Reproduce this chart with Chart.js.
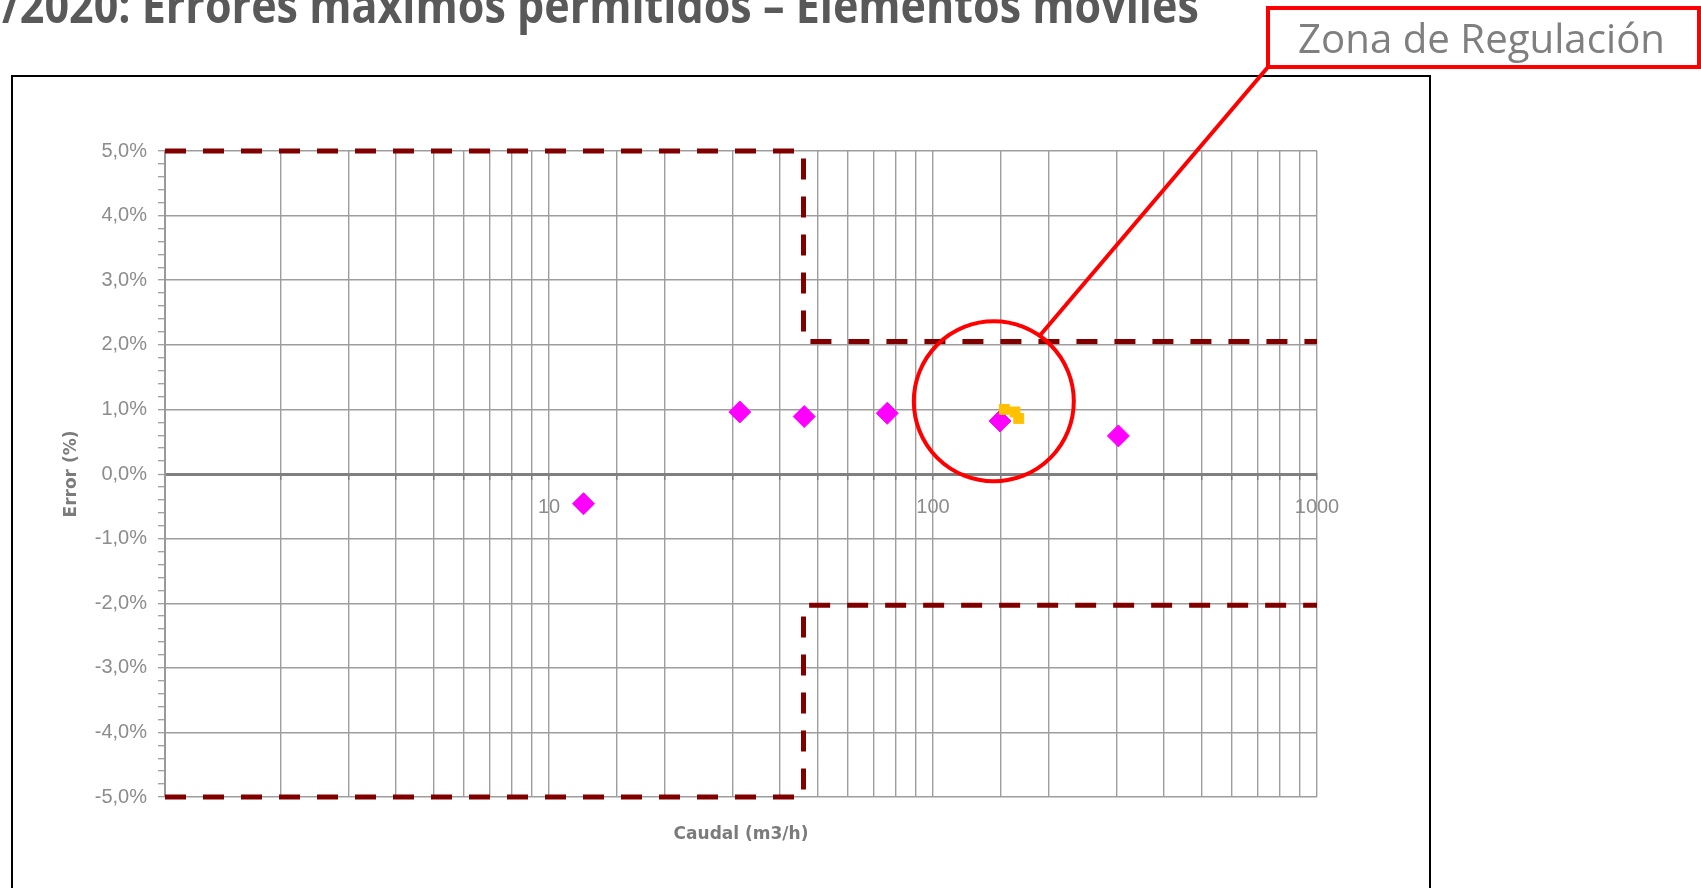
<!DOCTYPE html>
<html lang="es">
<head>
<meta charset="utf-8">
<title>Errores máximos permitidos – Elementos móviles</title>
<script src="https://cdn.jsdelivr.net/npm/chart.js@4.4.1/dist/chart.umd.min.js"></script>
<style>
  html, body { margin: 0; padding: 0; background: #fff; overflow: hidden; }
  body { width: 1701px; height: 888px; position: relative; }
  #frame { position: absolute; left: 11px; top: 75px; width: 1416px; height: 900px; border: 2px solid #000; }
  #chart { position: absolute; left: 0; top: 0; }
  .txt { position: absolute; left: 0; top: 0; white-space: nowrap; transform-origin: 0 0; }
  #title { font: 700 48px "Open Sans", sans-serif; line-height: 48px; color: #595959; }
  #zoneLabel { font: 400 41px "Open Sans", sans-serif; line-height: 41px; color: #7f7f7f; }
  #zoneBox { position: absolute; left: 1266px; top: 6px; width: 435px; height: 63px; box-sizing: border-box; border: 4px solid #ff0000; }
  .probe { display: inline-block; width: 0; height: 0; }
</style>
</head>
<body>
<div id="frame"></div>
<canvas id="chart" width="1701" height="888"></canvas>
<div id="title" class="txt"><span class="pre">/</span><span class="t">2020: Errores máximos permitidos – Elementos móviles</span><span class="probe"></span></div>
<div id="zoneBox"></div>
<div id="zoneLabel" class="txt"><span class="pre"></span><span class="t">Zona de Regulación</span><span class="probe"></span></div>

<script>
// ── Data ──

var xLabelled = [10, 100, 1000];
var yMajor = [-5, -4, -3, -2, -1, 0, 1, 2, 3, 4, 5];

// ensayos (rombos magenta)
var ensayoX = [12.3, 31.4, 46.2, 76.0, 149.5, 303.9];
var ensayoY = [-0.46, 0.96, 0.89, 0.94, 0.82, 0.59];

// puntos en zona de regulación (cuadrados amarillos)
var regulX = [153.4, 163.5, 167.2];
var regulY = [1.00, 0.96, 0.86];

// límites de error máximo permitido
var limSupX = [1, 46, 46, 1000];
var limSupY = [5, 5, 2.05, 2.05];
var limInfX = [1, 46, 46, 1000];
var limInfY = [-5, -5, -2.03, -2.03];

// círculo de la zona de regulación (centro en unidades del gráfico)
var zonaCentro = [144, 1.125];

// ── Styles ──

var GRID = "#9d9d9d";
var AXIS = "#808080";
var TICK_TXT = "#8c8c8c";
var TITLE_TXT = "#7b7b7b";
var LIMIT = "#800000";
var ZONE_RADIUS = 80;
var BOX_CORNER = { x: 1268, y: 67 };

function points(xs, ys) {
  return xs.map(function (x, i) { return { x: x, y: ys[i] }; });
}

function isMajorY(v) {
  return yMajor.some(function (m) { return Math.abs(m - v) < 1e-6; });
}

function fmtPct(v) {
  var r = Math.round(v * 10) / 10;
  if (Math.abs(r) < 1e-9) r = 0;
  return r.toFixed(1).replace(".", ",") + "%";
}

// ── Callout (circle + leader line) ──

var calloutPlugin = {
  id: "callout",
  afterDraw: function (chart) {
    var ctx = chart.ctx;
    var cx = chart.scales.x.getPixelForValue(zonaCentro[0]);
    var cy = chart.scales.y.getPixelForValue(zonaCentro[1]);
    var a = -55 * Math.PI / 180;
    ctx.save();
    ctx.strokeStyle = "#ff0000";
    ctx.lineWidth = 4;
    ctx.beginPath();
    ctx.arc(cx, cy, ZONE_RADIUS, 0, Math.PI * 2);
    ctx.stroke();
    ctx.beginPath();
    ctx.moveTo(cx + ZONE_RADIUS * Math.cos(a), cy + ZONE_RADIUS * Math.sin(a));
    ctx.lineTo(BOX_CORNER.x, BOX_CORNER.y);
    ctx.stroke();
    ctx.restore();
  },
};

// ── Chart ──

function renderChart() {
  var ctx = document.getElementById("chart").getContext("2d");
  var tickFont = { family: "Liberation Sans", size: 20 };
  var titleFont = { family: "DejaVu Sans", size: 17, weight: "bold" };

  new Chart(ctx, {
    type: "scatter",
    data: {
      datasets: [
        {
          label: "Zona de regulación",
          data: points(regulX, regulY),
          pointStyle: "rect",
          pointRadius: 7,
          backgroundColor: "#ffc000",
          borderColor: "#ffc000",
          borderWidth: 1,
          clip: false,
        },
        {
          label: "Ensayo",
          data: points(ensayoX, ensayoY),
          pointStyle: "rectRot",
          pointRadius: 11,
          backgroundColor: "#ff00ff",
          borderColor: "#ff00ff",
          borderWidth: 1,
          clip: false,
        },
        {
          label: "EMP superior",
          data: points(limSupX, limSupY),
          showLine: true,
          pointRadius: 0,
          borderColor: LIMIT,
          borderWidth: 5,
          borderDash: [21, 17],
          clip: false,
        },
        {
          label: "EMP inferior",
          data: points(limInfX, limInfY),
          showLine: true,
          pointRadius: 0,
          borderColor: LIMIT,
          borderWidth: 5,
          borderDash: [21, 17],
          clip: false,
        },
      ],
    },
    options: {
      responsive: false,
      devicePixelRatio: 1,
      animation: false,
      events: [],
      layout: { padding: { top: 151, right: 384, bottom: 0, left: 0 } },
      plugins: { legend: { display: false }, tooltip: { enabled: false } },
      scales: {
        x: {
          type: "logarithmic",
          min: 1,
          max: 1000,
          position: { y: 0 },
          ticks: {
            autoSkip: false,
            maxRotation: 0,
            padding: 17,
            color: TICK_TXT,
            font: tickFont,
            callback: function (v) { return xLabelled.indexOf(v) >= 0 ? String(v) : ""; },
          },
          grid: { color: GRID, lineWidth: 1.4, tickLength: 4, tickColor: AXIS, tickWidth: 1.5 },
          border: { color: AXIS, width: 3 },
        },
        x2: {
          type: "logarithmic",
          min: 1,
          max: 1000,
          position: "bottom",
          grid: { display: false, drawTicks: false },
          border: { display: false },
          ticks: { display: false },
          title: { display: true, text: "Caudal (m3/h)", color: TITLE_TXT, font: titleFont, padding: { top: 0, bottom: 43 } },
          afterFit: function (s) { s.height = 91; },
        },
        y: {
          type: "linear",
          min: -5,
          max: 5,
          ticks: {
            stepSize: 0.2,
            maxTicksLimit: 100,
            autoSkip: false,
            padding: 11,
            color: TICK_TXT,
            font: tickFont,
            callback: function (v) { return isMajorY(v) ? fmtPct(v) : ""; },
          },
          grid: {
            color: function (c) {
              if (!c.tick) return GRID;
              if (Math.abs(c.tick.value) < 1e-6) return AXIS;
              return isMajorY(c.tick.value) ? GRID : "rgba(0,0,0,0)";
            },
            lineWidth: function (c) {
              return c.tick && Math.abs(c.tick.value) < 1e-6 ? 3 : 1.4;
            },
            tickLength: 7,
            tickColor: GRID,
            tickWidth: 1.3,
          },
          border: { color: "#999999", width: 2 },
          title: { display: true, text: "Error (%)", color: TITLE_TXT, font: titleFont, padding: { top: 61, bottom: 0 } },
          afterFit: function (s) { s.width = 165; },
        },
      },
    },
    plugins: [calloutPlugin],
  });
}

// ── HTML texts (title, callout label) ──

function placeText(id, left, baseline, width) {
  var box = document.getElementById(id);
  var pre = box.querySelector(".pre");
  var text = box.querySelector(".t");
  var probe = box.querySelector(".probe");
  box.style.transform = "none";
  box.style.left = "0px";
  box.style.top = "0px";
  var b = box.getBoundingClientRect();
  var k = width / text.getBoundingClientRect().width;
  var lead = pre.getBoundingClientRect().width;
  var base = probe.getBoundingClientRect().top - b.top;
  box.style.left = (left - lead * k) + "px";
  box.style.top = (baseline - base) + "px";
  box.style.transform = "scaleX(" + k + ")";
}

function layoutTexts() {
  placeText("title", 20, 23, 1179);
  placeText("zoneLabel", 1298, 53, 367);
}

renderChart();
layoutTexts();
if (document.fonts && document.fonts.ready) document.fonts.ready.then(layoutTexts);
</script>
</body>
</html>
